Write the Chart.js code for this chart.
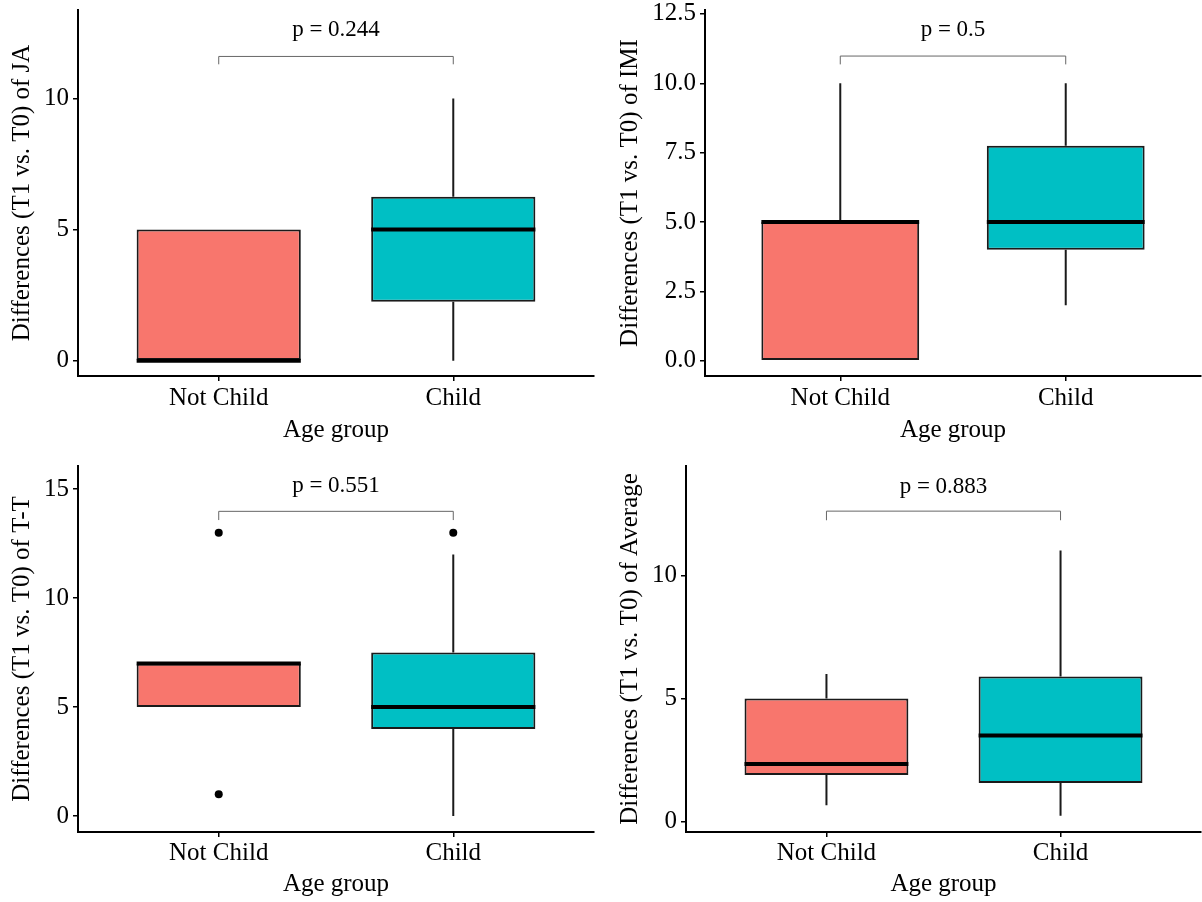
<!DOCTYPE html>
<html>
<head>
<meta charset="utf-8">
<script src="https://cdn.jsdelivr.net/npm/chart.js@4.4.1/dist/chart.umd.min.js"></script>
<style>
  html, body { margin: 0; padding: 0; background: #fff; }
  #wrap { position: relative; width: 1202px; height: 902px; }
  .cell { position: absolute; width: 601px; height: 451px; }
</style>
</head>
<body>
<div id="wrap">
  <div class="cell" style="left:0;top:0"><canvas id="cJA" width="601" height="451"></canvas></div>
  <div class="cell" style="left:601px;top:0"><canvas id="cIMI" width="601" height="451"></canvas></div>
  <div class="cell" style="left:0;top:451px"><canvas id="cTT" width="601" height="451"></canvas></div>
  <div class="cell" style="left:601px;top:451px"><canvas id="cAVG" width="601" height="451"></canvas></div>
</div>
<script>
// categories and colours
const categories = ['Not Child', 'Child'];
const fills = ['#F8766D', '#00BFC4'];

// box stats: [lower whisker, q1, median, q3, upper whisker]
const jaNotChild = [0, 0, 0, 5, 5];
const jaChild = [0, 2.25, 5, 6.25, 10];
const imiNotChild = [0, 0, 5, 5, 10];
const imiChild = [2, 4, 5, 7.75, 10];
const ttNotChild = [5, 5, 7, 7, 7];
const ttChild = [0, 4, 5, 7.5, 12];
const avgNotChild = [0.67, 1.9, 2.35, 5, 6];
const avgChild = [0.25, 1.58, 3.5, 5.9, 11];

// outliers as [category index, value]
const jaOutliers = [];
const imiOutliers = [];
const ttOutliers = [[1, 13], [1, 1], [2, 13]];
const avgOutliers = [];

// p-values and bracket heights (bracket line, tip end, label baseline)
const pLabels = ['p = 0.244', 'p = 0.5', 'p = 0.551', 'p = 0.883'];
const bracketY = [11.6, 10.98, 13.98, 12.6];
const bracketTip = [11.3, 10.68, 13.58, 12.23];
const labelY = [12.37, 11.7, 14.88, 13.35];

// y ticks
const jaTicks = [0, 5, 10];
const imiTicks = [0, 2.5, 5, 7.5, 10, 12.5];
const ttTicks = [0, 5, 10, 15];
const avgTicks = [0, 5, 10];
const imiTickLabels = ['0.0', '2.5', '5.0', '7.5', '10.0', '12.5'];

// y-axis limits
const yLimits = [[-0.58, 13.37], [-0.55, 12.64], [-0.73, 16.06], [-0.41, 14.43]];

const FONT = "'Liberation Serif', 'Times New Roman', serif";

const boxPlugin = {
  id: 'boxParts',
  beforeDatasetsDraw(chart, args, opts) {
    const ctx = chart.ctx, y = chart.scales.y, x = chart.scales.x;
    ctx.save();
    ctx.strokeStyle = '#1a1a1a';
    ctx.lineWidth = 2;
    opts.stats.forEach((s, i) => {
      const px = x.getPixelForValue(i + 1);
      ctx.beginPath();
      ctx.moveTo(px, y.getPixelForValue(s[0]));
      ctx.lineTo(px, y.getPixelForValue(s[1]));
      ctx.moveTo(px, y.getPixelForValue(s[3]));
      ctx.lineTo(px, y.getPixelForValue(s[4]));
      ctx.stroke();
    });
    ctx.restore();
  },
  afterDatasetsDraw(chart, args, opts) {
    const ctx = chart.ctx, y = chart.scales.y, x = chart.scales.x;
    const meta = chart.getDatasetMeta(0);
    ctx.save();
    ctx.strokeStyle = '#000';
    ctx.lineWidth = 4;
    opts.stats.forEach((s, i) => {
      const el = meta.data[i];
      const py = y.getPixelForValue(s[2]);
      ctx.beginPath();
      ctx.moveTo(el.x - el.width / 2, py);
      ctx.lineTo(el.x + el.width / 2, py);
      ctx.stroke();
    });
    // comparison bracket
    const x1 = x.getPixelForValue(1), x2 = x.getPixelForValue(2);
    const by = y.getPixelForValue(opts.bracket), ty = y.getPixelForValue(opts.tip);
    ctx.strokeStyle = '#666';
    ctx.lineWidth = 1;
    ctx.beginPath();
    ctx.moveTo(x1, ty);
    ctx.lineTo(x1, by);
    ctx.lineTo(x2, by);
    ctx.lineTo(x2, ty);
    ctx.stroke();
    ctx.fillStyle = '#000';
    ctx.font = '23px ' + FONT;
    ctx.textAlign = 'center';
    ctx.textBaseline = 'alphabetic';
    ctx.fillText(opts.label, x.getPixelForValue(1.5), y.getPixelForValue(opts.labelAt));
    ctx.restore();
  }
};

function makePanel(id, k, name, notChild, child, outliers, ticks, tickLabels, lay) {
  const stats = [notChild, child];
  const ctx = document.getElementById(id).getContext('2d');
  return new Chart(ctx, {
    type: 'bar',
    data: {
      datasets: [{
        data: stats.map((s, i) => ({ x: i + 1, y: [s[1], s[3]] })),
        backgroundColor: fills,
        borderColor: '#1a1a1a',
        borderWidth: 2,
        borderSkipped: false,
        barPercentage: 0.7,
        categoryPercentage: 1
      }, {
        type: 'scatter',
        data: outliers.map(o => ({ x: o[0], y: o[1] })),
        pointRadius: 4,
        pointBackgroundColor: '#000',
        pointBorderColor: '#000',
        pointBorderWidth: 0
      }]
    },
    options: {
      responsive: false,
      animation: false,
      events: [],
      layout: { padding: { top: lay.top, right: 601 - lay.right, left: 0, bottom: 0 } },
      plugins: {
        legend: { display: false },
        tooltip: { enabled: false },
        boxParts: { stats: stats, bracket: bracketY[k], tip: bracketTip[k], labelAt: labelY[k], label: pLabels[k] }
      },
      scales: {
        x: {
          type: 'linear',
          min: 0.4,
          max: 2.6,
          offset: false,
          afterBuildTicks: s => { s.ticks = categories.map((c, i) => ({ value: i + 1 })); },
          afterFit: s => { s.height = 451 - lay.bottom; s.paddingLeft = 0; s.paddingRight = 0; },
          ticks: {
            callback: v => categories[v - 1],
            color: '#000',
            font: { family: FONT, size: 25 },
            padding: lay.xPad,
            maxRotation: 0,
            autoSkip: false
          },
          grid: { display: true, drawOnChartArea: false, drawTicks: true, tickLength: 5, color: '#000', lineWidth: 1.5, offset: false },
          border: { display: true, color: '#000', width: 2 },
          title: { display: true, text: 'Age group', color: '#000', font: { family: FONT, size: 25 }, padding: { top: 0, bottom: lay.xTitlePad } }
        },
        y: {
          min: yLimits[k][0],
          max: yLimits[k][1],
          afterBuildTicks: s => { s.ticks = ticks.map(v => ({ value: v })); },
          afterFit: s => { s.width = lay.left; s.paddingTop = 0; s.paddingBottom = 0; },
          ticks: {
            callback: (v, i) => tickLabels ? tickLabels[i] : String(v),
            color: '#000',
            font: { family: FONT, size: 25 },
            padding: 4
          },
          grid: { display: true, drawOnChartArea: false, drawTicks: true, tickLength: 5, color: '#000', lineWidth: 1.5 },
          border: { display: true, color: '#000', width: 2 },
          title: { display: true, text: 'Differences (T1 vs. T0) of ' + name, color: '#000', font: { family: FONT, size: 25 }, padding: { top: lay.yTitlePad, bottom: 0 } }
        }
      }
    },
    plugins: [boxPlugin]
  });
}

makePanel('cJA', 0, 'JA', jaNotChild, jaChild, jaOutliers, jaTicks, null,
  { left: 78, right: 594, top: 10, bottom: 376, xPad: 2, xTitlePad: 6, yTitlePad: 7 });
makePanel('cIMI', 1, 'IMI', imiNotChild, imiChild, imiOutliers, imiTicks, imiTickLabels,
  { left: 104, right: 600, top: 10, bottom: 376, xPad: 2, xTitlePad: 6, yTitlePad: 14 });
makePanel('cTT', 2, 'T-T', ttNotChild, ttChild, ttOutliers, ttTicks, null,
  { left: 78, right: 594, top: 15, bottom: 381, xPad: 1, xTitlePad: 3, yTitlePad: 7 });
makePanel('cAVG', 3, 'Average', avgNotChild, avgChild, avgOutliers, avgTicks, null,
  { left: 85, right: 600, top: 15, bottom: 381, xPad: 1, xTitlePad: 3, yTitlePad: 14 });
</script>
</body>
</html>
